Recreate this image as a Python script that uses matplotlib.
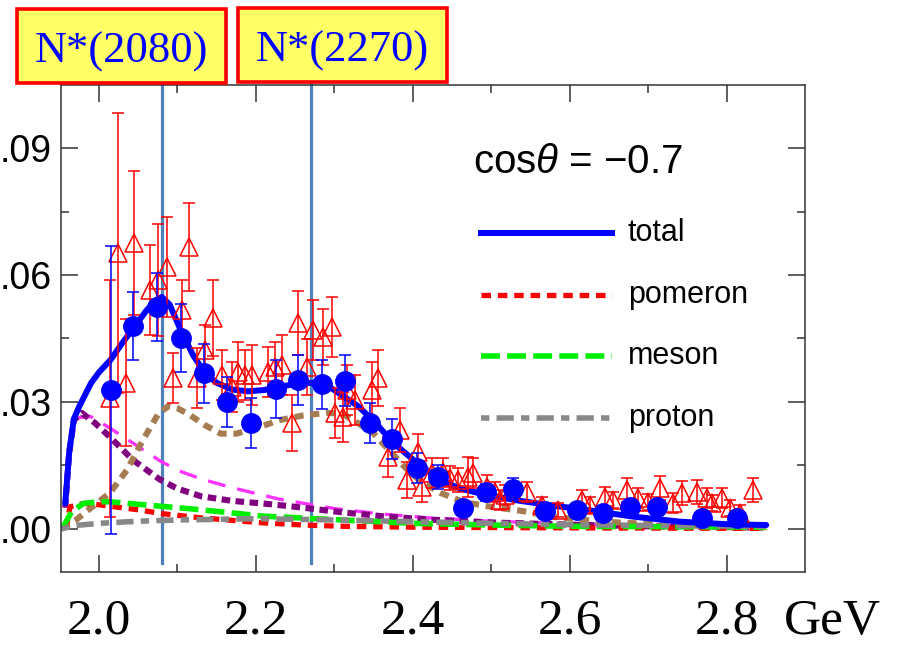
import matplotlib
matplotlib.use("Agg")
import matplotlib.pyplot as plt
from matplotlib.patches import Rectangle
from matplotlib.ticker import MultipleLocator

plt.rcParams['font.family'] = ['Liberation Sans', 'DejaVu Sans']
plt.rcParams['mathtext.fontset'] = 'custom'
plt.rcParams['mathtext.it'] = 'Liberation Sans:italic'
plt.rcParams['mathtext.rm'] = 'Liberation Sans'

# ---- measured cross sections (cos theta = -0.7) ----
blue_x = [2.015, 2.043, 2.074, 2.104, 2.134, 2.163, 2.194, 2.225, 2.254, 2.284,
          2.313, 2.345, 2.373, 2.405, 2.432, 2.464, 2.493, 2.527, 2.568, 2.609,
          2.642, 2.676, 2.711, 2.768, 2.813]
blue_y = [0.0328, 0.0479, 0.0524, 0.0451, 0.0368, 0.0300, 0.0250, 0.0330, 0.0352, 0.0342,
          0.0350, 0.0250, 0.0212, 0.0144, 0.0123, 0.0050, 0.0086, 0.0094, 0.0042, 0.0045,
          0.0038, 0.0052, 0.0052, 0.0026, 0.0026]
blue_err = [0.0340, 0.0080, 0.0080, 0.0080, 0.0070, 0.0060, 0.0060, 0.0068, 0.0060, 0.0058,
            0.0060, 0.0048, 0.0048, 0.0036, 0.0028, 0.0015, 0.0020, 0.0026, 0.0015, 0.0015,
            0.0015, 0.0015, 0.0015, 0.0012, 0.0012]

red_x = [2.014, 2.024, 2.034, 2.045, 2.065, 2.075, 2.087, 2.094, 2.106, 2.115,
         2.125, 2.135, 2.145, 2.157, 2.169, 2.177, 2.186, 2.195, 2.215, 2.224,
         2.233, 2.246, 2.254, 2.265, 2.273, 2.285, 2.297, 2.301, 2.311, 2.316,
         2.326, 2.348, 2.355, 2.368, 2.383, 2.392, 2.406, 2.411, 2.424, 2.438,
         2.447, 2.457, 2.470, 2.476, 2.494, 2.504, 2.511, 2.517, 2.545, 2.564,
         2.585, 2.615, 2.625, 2.645, 2.655, 2.673, 2.687, 2.699, 2.715, 2.731,
         2.743, 2.762, 2.775, 2.781, 2.794, 2.804, 2.817, 2.833]
red_y = [0.0309, 0.0652, 0.0345, 0.0676, 0.0565, 0.0588, 0.0619, 0.0357, 0.0517, 0.0666,
         0.0357, 0.0423, 0.0498, 0.0364, 0.0335, 0.0371, 0.0364, 0.0364, 0.0371, 0.0383,
         0.0387, 0.0250, 0.0487, 0.0383, 0.0470, 0.0453, 0.0477, 0.0274, 0.0265, 0.0328,
         0.0305, 0.0328, 0.0357, 0.0170, 0.0234, 0.0116, 0.0182, 0.0099, 0.0132, 0.0135,
         0.0120, 0.0116, 0.0123, 0.0132, 0.0099, 0.0087, 0.0068, 0.0080, 0.0087, 0.0057,
         0.0045, 0.0068, 0.0057, 0.0076, 0.0068, 0.0092, 0.0073, 0.0064, 0.0097, 0.0061,
         0.0085, 0.0087, 0.0073, 0.0061, 0.0073, 0.0050, 0.0038, 0.0092]
red_err = [0.0280, 0.0330, 0.0150, 0.0170, 0.0106, 0.0132, 0.0118, 0.0059, 0.0071, 0.0104,
           0.0071, 0.0059, 0.0090, 0.0059, 0.0059, 0.0071, 0.0059, 0.0071, 0.0059, 0.0059,
           0.0071, 0.0066, 0.0076, 0.0066, 0.0071, 0.0066, 0.0071, 0.0059, 0.0059, 0.0059,
           0.0059, 0.0066, 0.0066, 0.0047, 0.0052, 0.0042, 0.0042, 0.0035, 0.0035, 0.0033,
           0.0028, 0.0028, 0.0047, 0.0035, 0.0028, 0.0024, 0.0024, 0.0024, 0.0024, 0.0019,
           0.0017, 0.0024, 0.0019, 0.0024, 0.0019, 0.0028, 0.0024, 0.0019, 0.0028, 0.0024,
           0.0028, 0.0028, 0.0024, 0.0019, 0.0024, 0.0019, 0.0019, 0.0028]

# ---- model curves ----
total_x = [1.957, 1.962, 1.968, 1.975, 1.990, 2.000, 2.015, 2.030, 2.045, 2.060,
           2.072, 2.080, 2.090, 2.104, 2.120, 2.135, 2.150, 2.170, 2.190, 2.210,
           2.230, 2.250, 2.270, 2.290, 2.310, 2.330, 2.350, 2.375, 2.405, 2.435,
           2.460, 2.490, 2.530, 2.570, 2.620, 2.680, 2.740, 2.800, 2.850]
total_y = [0.0060, 0.0180, 0.0260, 0.0290, 0.0345, 0.0370, 0.0400, 0.0440, 0.0477, 0.0515,
           0.0540, 0.0548, 0.0530, 0.0470, 0.0410, 0.0368, 0.0345, 0.0329, 0.0325, 0.0328,
           0.0335, 0.0343, 0.0345, 0.0340, 0.0315, 0.0290, 0.0255, 0.0203, 0.0156, 0.0115,
           0.0095, 0.0082, 0.0068, 0.0057, 0.0045, 0.0029, 0.0017, 0.0011, 0.0009]

pomeron_x = [1.958, 1.963, 1.980, 1.995, 2.020, 2.050, 2.080, 2.105, 2.130, 2.170,
             2.210, 2.260, 2.310, 2.400, 2.500, 2.650, 2.850]
pomeron_y = [0.0000, 0.0052, 0.0060, 0.0058, 0.0052, 0.0045, 0.0036, 0.0031, 0.0026, 0.0020,
             0.0014, 0.0009, 0.0006, 0.0004, 0.0003, 0.0002, 0.0001]

meson_x = [1.953, 1.965, 1.980, 2.000, 2.014, 2.050, 2.100, 2.130, 2.210, 2.310,
           2.400, 2.500, 2.600, 2.850]
meson_y = [0.0000, 0.0040, 0.0060, 0.0064, 0.0064, 0.0058, 0.0050, 0.0045, 0.0030, 0.0021,
           0.0013, 0.0009, 0.0006, 0.0004]

proton_x = [1.952, 1.970, 2.000, 2.050, 2.100, 2.200, 2.300, 2.400, 2.500, 2.600,
            2.700, 2.850]
proton_y = [0.0000, 0.0008, 0.0013, 0.0018, 0.0021, 0.0024, 0.0021, 0.0017, 0.0013, 0.0010,
            0.0008, 0.0006]

res1_x = [1.957, 1.962, 1.968, 1.975, 1.990, 2.014, 2.043, 2.080, 2.105, 2.130,
          2.170, 2.230, 2.300, 2.360, 2.420, 2.500, 2.600, 2.700, 2.850]
res1_y = [0.0050, 0.0180, 0.0257, 0.0263, 0.0265, 0.0238, 0.0203, 0.0158, 0.0135, 0.0118,
          0.0097, 0.0070, 0.0048, 0.0035, 0.0026, 0.0018, 0.0012, 0.0008, 0.0005]

res2_x = [1.957, 1.962, 1.968, 1.978, 1.995, 2.014, 2.043, 2.078, 2.100, 2.130,
          2.170, 2.220, 2.260, 2.310, 2.360, 2.420, 2.500, 2.600, 2.700, 2.850]
res2_y = [0.0050, 0.0180, 0.0257, 0.0274, 0.0250, 0.0217, 0.0163, 0.0116, 0.0095, 0.0077,
          0.0066, 0.0058, 0.0050, 0.0039, 0.0030, 0.0022, 0.0015, 0.0010, 0.0006, 0.0003]

res3_x = [1.952, 1.970, 1.990, 2.014, 2.036, 2.056, 2.075, 2.088, 2.100, 2.115,
          2.135, 2.155, 2.175, 2.200, 2.230, 2.260, 2.290, 2.310, 2.330, 2.350,
          2.370, 2.390, 2.410, 2.435, 2.465, 2.500, 2.540, 2.580, 2.640, 2.720,
          2.850]
res3_y = [0.0000, 0.0020, 0.0050, 0.0085, 0.0140, 0.0210, 0.0270, 0.0290, 0.0285, 0.0270,
          0.0245, 0.0225, 0.0225, 0.0238, 0.0257, 0.0268, 0.0274, 0.0272, 0.0250, 0.0225,
          0.0185, 0.0145, 0.0112, 0.0085, 0.0063, 0.0052, 0.0042, 0.0028, 0.0017, 0.0010,
          0.0002]

resonance_masses = [2.08, 2.27]
resonance_labels = ["N*(2080)", "N*(2270)"]

x_ticks = [2.0, 2.2, 2.4, 2.6, 2.8]
x_ticklabels = ["2.0", "2.2", "2.4", "2.6", "2.8"]
y_ticks = [0.00, 0.03, 0.06, 0.09]
y_ticklabels = [".00", ".03", ".06", ".09"]

legend_names = ["total", "pomeron", "meson", "proton"]

# line styles: (colour, width in pt, dash pattern in units of line width)
sty_total = ('#0000FF', 4.3, None)
sty_pomeron = ('#FF0000', 3.8, (1.8, 1.3))
sty_meson = ('#00EE00', 4.0, (3.4, 1.3))
sty_proton = ('#888888', 4.0, (1.5, 1.3, 3.1, 1.3))
sty_res1 = ('#FF33FF', 2.4, (5.4, 3.6))
sty_res2 = ('#800080', 4.4, (1.4, 0.9))
sty_res3 = ('#A67C52', 4.4, (1.5, 1.1))


def linestyle(dashes):
    return '-' if dashes is None else (0, dashes)


W, H = 899, 647
fig = plt.figure(figsize=(W / 100, H / 100), dpi=100)
ax = fig.add_axes([61 / W, 75 / H, 744 / W, 487 / H])

# component curves
for xs, ys, sty in [(res1_x, res1_y, sty_res1), (res2_x, res2_y, sty_res2),
                    (res3_x, res3_y, sty_res3), (pomeron_x, pomeron_y, sty_pomeron),
                    (meson_x, meson_y, sty_meson), (proton_x, proton_y, sty_proton)]:
    ax.plot(xs, ys, color=sty[0], lw=sty[1], ls=linestyle(sty[2]), zorder=2)

# resonance markers
for m in resonance_masses:
    ax.axvline(m, ymin=0.018, ymax=1.006, color='#4F81BD', lw=2.3, clip_on=False, zorder=1)

ax.plot(total_x, total_y, color=sty_total[0], lw=sty_total[1], zorder=3,
        solid_capstyle='round')

ax.errorbar(red_x, red_y, yerr=red_err, fmt='^', ms=13, mfc='none', mec='#FF0000',
            mew=1.1, ecolor='#FF0000', elinewidth=1.1, capsize=4.3, capthick=1.1,
            zorder=4)
ax.errorbar(blue_x, blue_y, yerr=blue_err, fmt='o', ms=14, color='#0000FF',
            mec='#0000FF', ecolor='#0000FF', elinewidth=1.1, capsize=4.3,
            capthick=1.1, zorder=5)

ax.set_xlim(1.9516, 2.8994)
ax.set_ylim(-0.0102, 0.1049)

ax.set_xticks(x_ticks, labels=x_ticklabels, fontfamily='Liberation Serif', fontsize=37)
ax.set_yticks(y_ticks, labels=y_ticklabels, fontsize=27)
ax.xaxis.set_minor_locator(MultipleLocator(0.1))
ax.yaxis.set_minor_locator(MultipleLocator(0.015))
ax.tick_params(which='both', direction='in', top=True, right=True,
               color='#333333', width=1.1)
ax.tick_params(which='major', length=12)
ax.tick_params(which='minor', length=6)
ax.tick_params(axis='x', pad=19)
ax.tick_params(axis='y', pad=7)
for s in ax.spines.values():
    s.set_color('#333333')
    s.set_linewidth(1.1)

fig.text(784 / W, 2 / H, "GeV", family='Liberation Serif', fontsize=37, va='bottom')

# legend
ax.text(0.554, 0.842, r"cos$\theta$ = −0.7", transform=ax.transAxes, fontsize=29,
        va='center', ha='left')
leg_rows = [0.696, 0.569, 0.4435, 0.316]
for sty, name, yrow in zip([sty_total, sty_pomeron, sty_meson, sty_proton],
                           legend_names, leg_rows):
    ax.plot([0.5645, 0.7406], [yrow, yrow], transform=ax.transAxes, color=sty[0],
            lw=sty[1], ls=linestyle(sty[2]), zorder=6)
    ax.text(0.762, yrow, name, transform=ax.transAxes, fontsize=22, va='center', ha='left')

# resonance tags above the frame
boxes = [(17, 9, 226, 83), (238, 8, 447, 82)]
for (x0, y0, x1, y1), lab in zip(boxes, resonance_labels):
    fig.patches.append(Rectangle((x0 / W, 1 - y1 / H), (x1 - x0) / W, (y1 - y0) / H,
                                 transform=fig.transFigure, facecolor='#FFFF66',
                                 edgecolor='#FF0000', lw=2.6))
    fig.text((x0 + x1) / 2 / W, 1 - (y0 + 54) / H, lab, family='Liberation Serif',
             fontsize=32, color='#0000FF', ha='center', va='baseline')

fig.savefig("out.png", dpi=100)
